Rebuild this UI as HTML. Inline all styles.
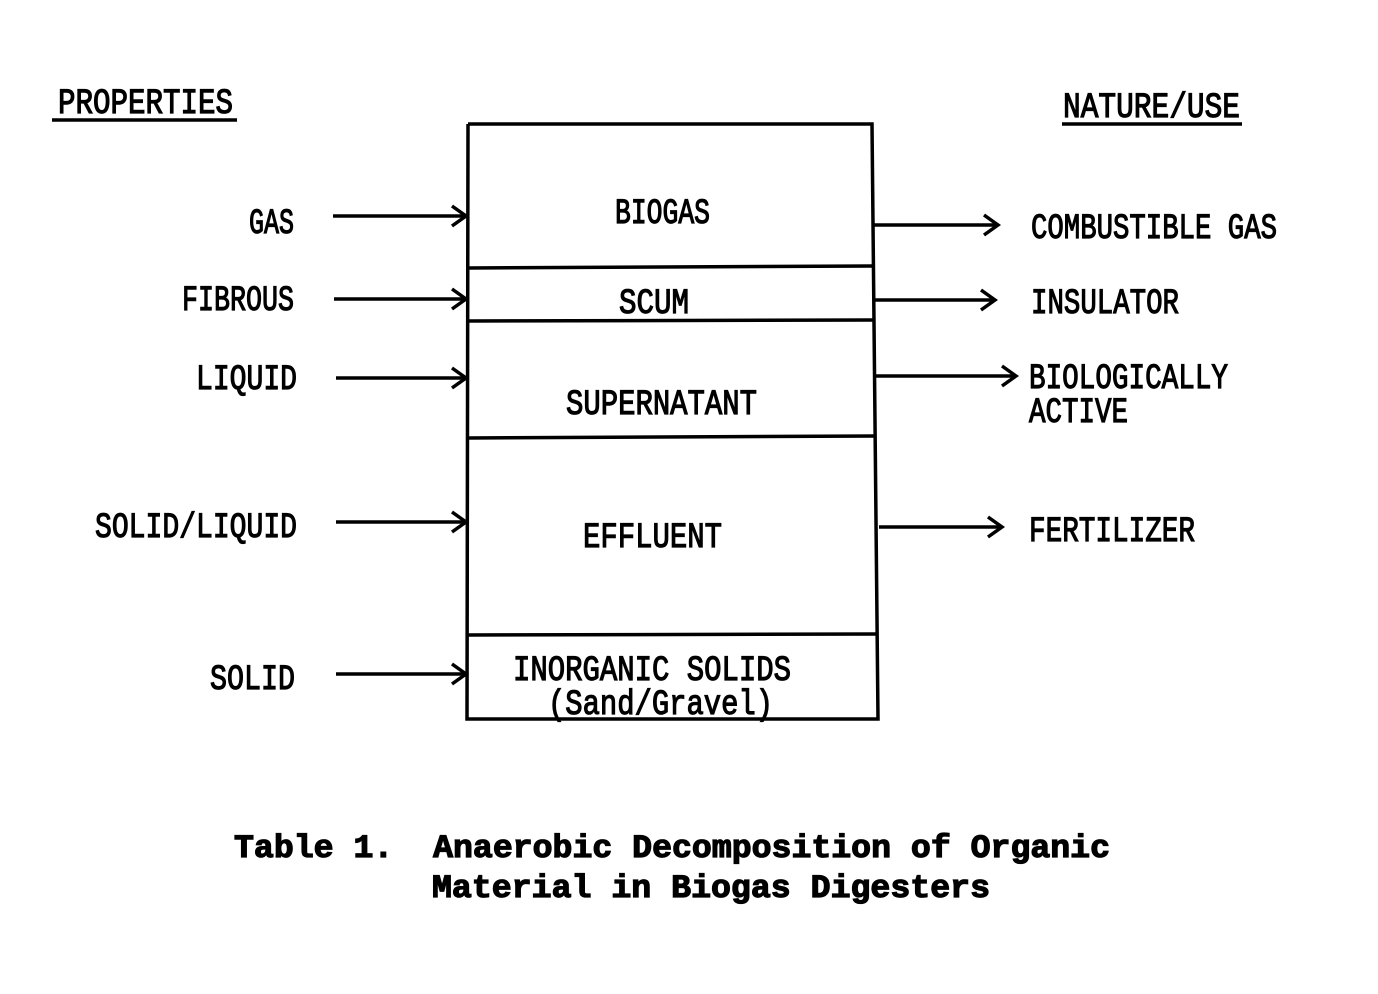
<!DOCTYPE html>
<html><head><meta charset="utf-8"><style>
html,body{margin:0;padding:0;background:#fff;}
svg{display:block;}
.t{font-family:"Liberation Mono",monospace;font-size:27px;fill:#000;stroke:#000;stroke-width:0.9;}
.c{font-family:"Liberation Mono",monospace;font-size:32px;font-weight:bold;fill:#000;stroke:#000;stroke-width:1.2;}
</style></head><body>
<svg width="1378" height="994" viewBox="0 0 1378 994" xmlns="http://www.w3.org/2000/svg">
<g stroke="#000" stroke-width="3.5" fill="none">
<polyline points="468,124 872,124 878,719 467,719 468,124"/>
<line x1="468" y1="268" x2="873" y2="266"/>
<line x1="468" y1="321" x2="874" y2="320"/>
<line x1="468" y1="438" x2="876" y2="436"/>
<line x1="467" y1="635" x2="878" y2="634"/>
<line x1="52" y1="120" x2="237" y2="120"/>
<line x1="1062" y1="124" x2="1242" y2="124"/>
<line x1="333" y1="216" x2="468" y2="216"/><polyline points="452,206 466,216 452,226"/>
<line x1="334" y1="299" x2="468" y2="299"/><polyline points="452,289 466,299 452,309"/>
<line x1="336" y1="378" x2="468" y2="378"/><polyline points="452,368 466,378 452,388"/>
<line x1="336" y1="522" x2="468" y2="522"/><polyline points="452,512 466,522 452,532"/>
<line x1="336" y1="674" x2="468" y2="674"/><polyline points="452,664 466,674 452,684"/>
<line x1="874" y1="225" x2="998" y2="225"/><polyline points="984,215 998,225 984,235"/>
<line x1="875" y1="300" x2="995" y2="300"/><polyline points="981,290 995,300 981,310"/>
<line x1="876" y1="376" x2="1016" y2="376"/><polyline points="1002,366 1016,376 1002,386"/>
<line x1="879" y1="527" x2="1002" y2="527"/><polyline points="988,517 1002,527 988,537"/>
</g>
<g class="t">
<text transform="translate(58,113) scale(1,1.3)" textLength="175" lengthAdjust="spacingAndGlyphs">PROPERTIES</text>
<text transform="translate(1063,117) scale(1,1.3)" textLength="177" lengthAdjust="spacingAndGlyphs">NATURE/USE</text>
<text transform="translate(249,233) scale(1,1.3)" textLength="45" lengthAdjust="spacingAndGlyphs">GAS</text>
<text transform="translate(182,310) scale(1,1.3)" textLength="112" lengthAdjust="spacingAndGlyphs">FIBROUS</text>
<text transform="translate(196,389) scale(1,1.3)" textLength="101" lengthAdjust="spacingAndGlyphs">LIQUID</text>
<text transform="translate(95,537) scale(1,1.3)" textLength="202" lengthAdjust="spacingAndGlyphs">SOLID/LIQUID</text>
<text transform="translate(210,689) scale(1,1.3)" textLength="85" lengthAdjust="spacingAndGlyphs">SOLID</text>
<text transform="translate(615,223) scale(1,1.3)" textLength="95" lengthAdjust="spacingAndGlyphs">BIOGAS</text>
<text transform="translate(619,313) scale(1,1.3)" textLength="70" lengthAdjust="spacingAndGlyphs">SCUM</text>
<text transform="translate(566,414) scale(1,1.3)" textLength="191" lengthAdjust="spacingAndGlyphs">SUPERNATANT</text>
<text transform="translate(583,547) scale(1,1.3)" textLength="139" lengthAdjust="spacingAndGlyphs">EFFLUENT</text>
<text transform="translate(513,680) scale(1,1.3)" textLength="278" lengthAdjust="spacingAndGlyphs">INORGANIC SOLIDS</text>
<text transform="translate(548,714) scale(1,1.3)" textLength="225" lengthAdjust="spacingAndGlyphs">(Sand/Gravel)</text>
<text transform="translate(1031,238) scale(1,1.3)" textLength="246" lengthAdjust="spacingAndGlyphs">COMBUSTIBLE GAS</text>
<text transform="translate(1031,313) scale(1,1.3)" textLength="148" lengthAdjust="spacingAndGlyphs">INSULATOR</text>
<text transform="translate(1029,388) scale(1,1.3)" textLength="199" lengthAdjust="spacingAndGlyphs">BIOLOGICALLY</text>
<text transform="translate(1029,422) scale(1,1.3)" textLength="99" lengthAdjust="spacingAndGlyphs">ACTIVE</text>
<text transform="translate(1029,541) scale(1,1.3)" textLength="166" lengthAdjust="spacingAndGlyphs">FERTILIZER</text>
</g>
<g class="c">
<text x="234" y="857" textLength="876" lengthAdjust="spacingAndGlyphs" xml:space="preserve">Table 1.  Anaerobic Decomposition of Organic</text>
<text x="432" y="897" textLength="558" lengthAdjust="spacingAndGlyphs">Material in Biogas Digesters</text>
</g>
</svg>
</body></html>
